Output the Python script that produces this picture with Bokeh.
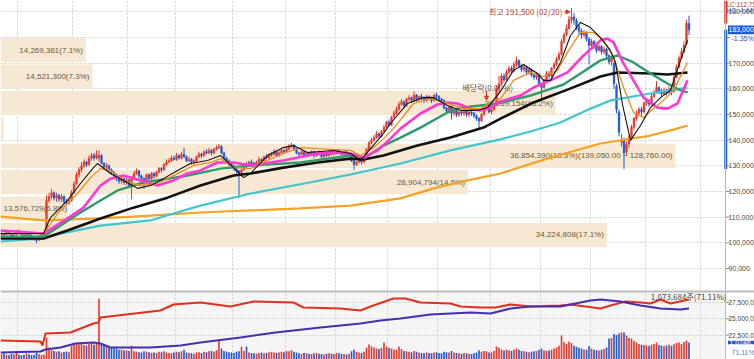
from bokeh.plotting import figure
from bokeh.models import (Range1d, FixedTicker, Label, Span, Arrow, NormalHead, ColumnDataSource)
from bokeh.layouts import column
from bokeh.embed import file_html
from bokeh.resources import INLINE
from bokeh.core.properties import value

# ---------------- daily candles (thousand KRW) ----------------
opens = [103.0,103.5,103.0,104.0,103.5,102.5,103.0,104.5,104.0,103.0,
102.5,103.5,103.0,102.0,101.5,101.0,102.5,103.0,104.0,116.5,
118.0,119.5,117.5,118.5,117.0,118.0,116.0,115.5,116.5,119.5,
123.0,126.5,128.5,130.0,131.5,130.5,133.0,134.0,133.0,133.0,
134.0,131.0,129.5,130.0,128.5,127.5,126.5,125.0,124.0,125.0,
123.5,124.5,122.0,125.5,127.0,128.0,126.0,125.0,124.0,126.5,
125.0,127.0,126.0,127.5,129.0,128.5,130.5,131.5,132.0,133.0,
132.5,134.0,133.0,134.5,133.5,132.0,132.5,131.5,132.0,133.5,
134.5,134.0,135.5,135.0,136.0,135.0,136.5,137.0,137.5,135.0,
133.0,132.0,131.0,130.0,129.0,128.0,127.0,128.5,130.5,130.0,
131.5,131.0,130.0,131.5,132.5,132.0,133.5,133.0,134.0,134.5,
135.5,134.0,135.0,136.0,135.5,136.5,137.5,138.0,136.5,135.0,
134.5,135.5,134.0,135.0,134.5,135.5,134.0,135.0,134.5,133.5,
135.0,134.0,135.5,134.5,135.0,136.0,135.0,134.5,135.5,134.0,
134.5,132.0,130.5,131.5,132.0,131.5,133.0,136.5,139.0,140.0,
141.0,142.5,141.5,143.5,145.0,147.0,146.0,149.0,150.5,152.0,
154.0,155.0,153.5,156.0,156.5,155.5,157.5,156.0,157.0,156.5,
155.5,157.0,156.5,155.5,157.5,157.0,156.0,155.5,152.5,151.5,
153.0,150.5,151.5,150.0,151.0,150.5,151.5,150.0,151.0,150.5,
149.5,148.5,147.5,150.0,152.5,153.0,151.0,152.0,154.0,160.0,
162.0,165.0,163.5,166.5,168.0,167.0,169.5,171.0,169.0,167.5,
168.5,166.5,167.5,165.5,164.5,165.5,162.0,160.5,163.5,166.0,
165.0,168.0,169.5,171.5,173.5,178.5,181.0,183.5,187.0,188.0,
186.5,184.0,182.5,181.0,182.0,179.5,177.0,178.5,177.0,175.0,
176.5,174.5,175.5,173.0,170.5,170.0,161.0,151.0,139.0,140.0,
135.5,138.5,141.0,145.0,148.5,150.5,152.0,151.0,154.5,155.5,
154.0,157.0,158.5,160.5,159.0,158.0,159.5,158.5,160.0,159.0,
164.5,168.5,172.0,174.5,177.5,185.5]
closes = [103.5,103.0,104.0,103.5,102.5,103.0,104.5,104.0,103.0,102.5,
103.5,103.0,102.0,101.5,101.0,102.5,103.0,103.5,116.5,118.0,
119.5,117.5,118.5,117.0,118.0,116.0,115.5,116.5,119.5,123.0,
126.5,128.5,130.0,131.5,130.5,133.0,134.0,133.0,134.5,134.0,
131.0,129.5,130.0,128.5,127.5,126.5,125.0,124.0,125.0,123.5,
124.5,122.0,125.5,127.0,128.0,126.0,125.0,124.0,126.5,125.0,
127.0,126.0,127.5,129.0,128.5,130.5,131.5,132.0,133.0,132.5,
134.0,133.0,134.5,133.5,132.0,132.5,131.5,132.0,133.5,134.5,
134.0,135.5,135.0,136.0,135.0,136.5,137.0,137.5,135.0,133.0,
132.0,131.0,130.0,129.0,128.0,127.0,128.5,130.5,130.0,131.5,
131.0,130.0,131.5,132.5,132.0,133.5,133.0,134.0,134.5,135.5,
134.0,135.0,136.0,135.5,136.5,137.5,138.0,136.5,135.0,134.5,
135.5,134.0,135.0,134.5,135.5,134.0,135.0,134.5,133.5,135.0,
134.0,135.5,134.5,135.0,136.0,135.0,134.5,135.5,134.0,134.5,
132.0,130.5,131.5,132.0,131.5,133.0,136.5,139.0,140.0,141.0,
142.5,141.5,143.5,145.0,147.0,146.0,149.0,150.5,152.0,154.0,
155.0,153.5,156.0,156.5,155.5,157.5,156.0,157.0,156.5,155.5,
157.0,156.5,155.5,157.5,157.0,156.0,155.5,152.5,151.5,153.0,
150.5,151.5,150.0,151.0,150.5,151.5,150.0,151.0,150.5,149.5,
148.5,147.5,150.0,152.5,153.0,151.0,152.0,153.5,160.0,162.0,
165.0,163.5,166.5,168.0,167.0,169.5,171.0,169.0,167.5,168.5,
166.5,167.5,165.5,164.5,165.5,162.0,160.5,163.5,166.0,165.0,
168.0,169.5,171.5,173.5,178.5,181.0,183.5,187.0,188.0,186.5,
184.0,182.5,181.0,182.0,179.5,177.0,178.5,177.0,175.0,176.5,
174.5,175.5,173.0,170.5,172.0,162.0,152.0,143.0,140.0,135.0,
138.5,141.0,145.0,148.5,150.5,152.0,151.0,154.5,155.5,154.0,
157.0,158.5,160.5,159.0,158.0,159.5,158.5,160.0,159.0,164.5,
168.5,172.0,174.5,177.0,185.5,183.0]
highs = [104.5,104.0,104.8,104.5,103.8,103.5,105.0,105.2,104.2,103.5,
104.0,104.0,103.2,102.5,102.0,103.0,103.5,104.0,118.5,119.5,
121.0,120.0,119.5,119.0,119.0,118.5,117.0,117.5,120.5,124.0,
127.5,129.5,131.5,132.5,132.0,134.0,135.0,135.0,136.0,136.0,
134.5,131.5,131.0,130.5,129.0,128.0,127.0,125.5,126.0,125.5,
125.5,125.0,126.0,128.0,129.0,128.5,126.5,125.5,127.0,127.0,
127.5,127.5,128.0,129.5,129.5,131.0,132.5,133.0,134.0,134.0,
135.0,134.5,135.5,137.0,134.0,133.5,133.0,132.5,134.0,135.5,
135.0,136.0,136.5,137.0,136.5,137.0,138.0,138.5,138.0,135.5,
133.5,132.5,131.5,130.5,129.5,128.5,129.0,131.0,131.5,132.0,
132.5,131.5,132.0,133.5,133.0,134.0,134.5,135.0,135.5,136.5,
136.0,136.0,137.0,136.5,137.5,138.5,139.0,138.5,137.0,135.5,
136.0,136.0,135.5,135.5,136.0,136.0,135.5,136.0,135.0,135.5,
135.5,136.0,136.0,135.5,136.5,136.5,135.5,136.0,136.0,135.0,
134.5,132.5,132.0,132.5,132.5,133.5,137.0,139.5,141.0,142.0,
143.5,143.0,144.0,146.0,147.5,148.0,149.5,151.5,153.0,155.0,
156.0,155.5,156.5,157.5,157.0,159.0,158.0,157.5,158.0,157.0,
157.5,157.5,157.0,158.0,158.5,157.5,156.5,156.0,153.0,153.5,
153.5,152.0,152.0,151.5,151.5,152.0,152.0,151.5,151.5,151.0,
150.0,149.0,150.5,153.0,154.0,153.5,152.5,154.0,161.0,165.0,
166.0,166.0,167.5,169.0,169.0,170.5,172.5,171.5,169.5,169.5,
169.0,168.5,168.0,166.0,166.5,166.0,162.5,164.0,167.0,167.0,
168.5,170.5,172.5,174.5,179.5,182.0,185.0,188.5,191.5,189.5,
187.5,185.0,183.5,183.0,182.5,180.0,179.5,179.0,177.5,177.5,
177.0,176.5,176.0,173.5,173.0,170.5,162.0,152.0,142.5,141.0,
139.5,142.0,146.0,149.0,151.5,153.0,153.0,155.0,156.5,156.0,
158.0,159.5,163.0,161.0,160.0,160.5,160.0,161.0,160.5,165.5,
169.5,173.0,176.0,178.5,187.0,188.5]
lows = [102.5,102.5,102.8,103.0,102.0,102.0,102.8,103.5,102.5,102.0,
102.2,102.5,101.5,100.8,99.8,100.8,102.0,102.5,103.5,115.5,
117.0,116.5,116.0,116.0,116.0,115.0,114.5,114.8,116.0,119.0,
122.5,125.5,127.5,129.0,129.5,130.0,132.0,132.0,132.5,131.5,
130.5,128.5,128.5,127.5,126.5,125.5,124.0,123.0,123.0,122.5,
122.5,121.5,117.0,125.0,126.5,125.0,124.0,121.0,123.5,122.0,
124.5,125.0,125.5,127.0,127.5,128.0,130.0,131.0,131.5,132.0,
132.0,132.5,132.5,133.0,131.5,131.5,130.5,130.5,131.5,133.0,
133.0,133.5,134.5,134.5,134.0,134.5,136.0,136.5,134.5,132.5,
131.0,130.0,129.0,128.0,127.0,117.5,126.0,128.0,129.0,129.5,
130.0,129.0,129.5,131.0,131.0,131.5,132.5,132.5,133.5,134.0,
133.5,133.5,134.5,134.5,135.0,136.0,137.0,136.0,134.5,133.5,
134.0,133.5,133.5,133.5,134.0,133.0,133.5,134.0,132.5,133.0,
133.5,133.5,134.0,134.0,134.5,134.5,134.0,134.0,133.5,133.5,
131.5,128.5,130.0,131.0,130.5,131.0,132.5,136.0,138.5,139.5,
140.5,140.5,141.0,143.0,144.5,145.5,145.5,148.5,150.0,151.5,
153.5,152.5,153.0,155.0,154.5,155.0,155.0,155.0,155.5,154.5,
155.0,155.5,154.5,155.0,156.0,155.0,154.5,152.0,150.5,150.5,
148.0,149.5,149.0,149.0,149.5,149.5,149.0,149.0,149.5,148.5,
147.5,144.5,147.0,149.5,151.5,150.5,150.0,151.5,153.5,158.5,
161.5,162.5,163.0,165.5,166.0,166.5,168.5,168.0,166.5,166.5,
165.5,165.5,164.5,163.5,163.5,161.0,156.0,160.0,163.0,164.0,
164.5,167.5,169.0,171.0,173.0,177.5,180.5,183.0,185.5,185.0,
183.0,181.0,179.5,180.0,178.5,169.5,175.5,175.5,174.0,174.5,
173.5,173.5,172.0,169.5,169.0,160.0,150.5,141.5,137.5,128.76,
134.0,137.0,140.0,144.0,147.5,149.5,149.5,150.5,153.5,153.0,
153.5,156.5,158.0,158.0,157.0,157.5,157.5,158.0,157.5,158.5,
164.0,168.0,171.5,174.0,177.0,181.0]
# daily volume (thousand shares)
volumes_k = [480,520,450,430,500,470,540,460,420,440,510,470,430,450,560,490,430,460,
1330,
820,700,640,600,620,560,590,610,580,
900,960,1020,980,1050,940,900,1000,1070,960,1050,
3300,
1000,920,880,850,820,780,760,700,720,680,660,
640,900,620,600,580,560,620,600,580,550,
560,540,600,580,620,560,540,520,560,600,
580,620,700,560,540,520,500,560,580,540,
600,580,620,640,600,680,1173,760,640,600,
580,560,540,600,620,860,640,867,560,540,
520,500,540,560,520,540,580,600,560,540,
560,600,580,640,620,680,600,560,520,500,
540,520,500,480,520,540,500,480,460,500,
520,500,480,540,520,500,480,460,500,620,
700,600,560,540,600,800,969,880,820,760,
740,800,1071,860,800,760,720,700,867,740,
640,620,600,580,640,600,560,540,520,560,
540,520,560,580,540,520,600,580,560,640,
560,540,520,500,540,520,500,480,520,560,
680,600,640,620,560,580,640,867,800,720,
660,700,680,640,700,760,700,640,620,600,
580,600,620,640,700,760,680,640,660,700,
760,820,900,1428,1100,1000,1122,1050,900,860,
800,760,720,700,880,760,700,680,660,700,
740,820,1275,1300,1500,1450,1530,1581,1581,1428,
1300,1275,1150,1071,1000,960,940,920,900,960,
1000,1071,940,900,880,920,960,900,980,1050,
1071,1000,1100,1173,1074]

# month-start positions (candle index) for vertical grid
month_start_idx = [6.5, 28.5, 50.5, 69.5, 92.5, 113.5, 133.5, 154.5, 174.5, 195.5, 215.5, 235.5, 257.5, 279.5]

# ---------------- moving averages (thousand KRW) ----------------
ma5_idx = [-0.4,16.8,19.6,26.4,31.6,36.8,38.4,43.6,48.8,54.4,59.6,64.8,70.4,75.6,82.4,87.6,92.8,96.8,99.6,106.4,112.8,116.8,122.4,132.8,139.6,143.6,147.6,152.8,155.6,162.4,168.8,172.8,178.4,183.6,190.4,194.4,199.6,204.8,208.8,214.4,216.8,219.6,223.6,227.6,231.6,235.6,239.6,243.6,245.6,248.4,251.6,255.6,259.6,263.6,267.6,271.6,274.4]
ma5_val = [103.6,103.6,109.8,116.5,123.1,129.3,130.9,127.0,124.3,121.2,122.3,125.0,128.2,130.9,132.1,134.0,129.3,125.4,127.0,134.0,137.1,137.9,135.2,136.0,134.8,132.1,136.7,142.6,146.5,154.3,156.6,156.6,153.5,151.6,151.6,152.7,159.0,167.2,169.5,166.0,163.3,163.3,170.3,180.8,185.9,183.9,180.0,175.0,170.3,153.9,139.9,145.7,152.7,156.6,159.4,171.1,178.9]
ma10_idx = [-0.4,16.8,22.4,30.4,35.6,39.6,43.6,48.8,55.6,62.4,68.8,76.8,83.6,87.6,92.8,99.6,106.4,112.8,119.6,126.4,139.6,143.6,148.8,152.8,156.8,164.8,171.6,178.4,184.8,191.6,195.6,199.6,204.8,211.6,216.8,222.4,226.4,231.6,236.8,240.8,244.8,248.8,252.8,256.8,260.8,264.8,268.8,274.4]
ma10_val = [103.6,103.6,111.4,119.2,125.4,128.9,128.2,124.3,122.3,123.1,126.2,130.1,131.3,132.8,129.3,128.9,132.1,134.8,137.1,136.7,136.0,134.0,137.1,140.6,144.5,154.3,156.2,154.3,152.3,152.3,154.7,156.2,163.3,166.4,164.8,167.2,174.2,182.0,182.0,178.9,172.2,160.5,150.8,148.8,152.3,155.5,159.4,170.3]
ma20_idx = [-0.4,16.8,26.4,32.8,39.6,43.6,48.8,55.6,62.4,68.8,74.4,79.6,86.4,92.8,99.6,112.8,126.4,132.8,139.6,144.8,150.4,155.6,159.6,167.6,174.4,178.4,182.4,187.6,191.6,195.6,199.6,207.6,212.8,219.6,226.4,232.8,239.6,242.4,244.8,248.8,252.8,256.8,262.4,266.4,270.4,274.4]
ma20_val = [104.8,103.6,109.5,113.7,122.3,125.0,126.2,124.3,122.3,124.3,127.0,128.2,131.3,131.3,130.1,132.1,134.8,135.2,134.8,133.2,136.0,140.6,144.5,150.4,153.9,154.7,154.3,152.3,151.6,152.7,155.1,157.4,160.5,163.3,166.4,173.0,178.9,179.6,178.1,169.9,163.3,156.6,152.7,152.3,154.3,163.3]
ma60_idx = [-0.4,16.8,23.6,31.6,39.6,46.4,56.8,74.4,87.6,99.6,119.6,139.6,145.6,152.8,159.6,167.6,178.4,183.6,191.6,198.4,211.6,224.8,231.6,239.6,246.4,252.8,259.6,266.4,271.6,274.4]
ma60_val = [102.4,102.4,106.7,111.8,116.5,120.4,123.5,126.2,128.9,130.1,131.3,134.0,133.2,137.9,141.0,144.9,150.8,152.7,153.5,154.3,157.4,161.7,166.0,171.1,173.0,170.3,166.0,162.1,159.4,158.6]
ma120_idx = [-0.4,16.8,26.4,39.6,52.8,66.4,79.6,92.8,99.6,112.8,126.4,139.6,144.8,152.8,166.4,179.6,192.8,199.6,212.8,226.4,239.6,246.4,259.6,266.4,274.4]
ma120_val = [101.7,101.7,104.8,109.5,113.7,117.6,122.3,126.2,127.0,129.3,131.3,132.8,132.5,134.0,137.9,141.0,144.9,148.4,154.7,159.7,164.8,166.4,166.0,165.6,166.4]
ma240_idx = [-0.4,16.8,23.6,39.6,59.6,68.8,79.6,99.6,119.6,139.6,159.6,179.6,199.6,211.6,223.6,235.6,243.6,259.6,274.4]
ma240_val = [100.5,101.7,103.6,106.7,108.7,111.4,114.5,119.2,122.8,126.6,130.9,136.0,140.3,143.4,146.9,152.3,155.5,158.2,160.5]
ma480_idx = [-0.4,16.8,39.6,59.6,79.6,99.6,119.6,139.6,159.6,172.8,186.4,199.6,219.6,239.6,259.6,268.8,274.4]
ma480_val = [110.2,108.7,109.5,110.6,111.8,112.6,113.4,114.5,117.3,121.2,124.3,127.0,133.2,138.7,141.8,144.1,145.7]

# ---------------- volume-by-price bands ----------------
vp_lows = [97890, 108180, 118470, 128760, 139050, 149340, 159630, 169920]
vp_step = 10290
vp_vols = [34224808, 13576729, 28904794, 36854390, 11127465, 32269154, 14521300, 14269361]
vp_pcts = ["17.1", "6.8", "14.5", "18.5", "5.6", "16.2", "7.3", "7.1"]
vp_extra = ["", "", "", "(139,050.00 ~ 128,760.00)", "", "", "", ""]
vp_label_left = [False, True, False, False, False, False, False, False]
vp_show_label = [True, True, True, True, False, True, True, True]

# ---------------- lower panel lines (shares, millions) ----------------
red_idx = [-0.4,15.6,16.4,17.6,27.6,36.8,38.8,39.6,63.6,68.8,79.6,91.6,100.8,116.8,120.8,135.6,143.6,147.6,156.8,161.6,167.6,179.6,183.6,191.6,197.6,203.6,211.6,223.6,227.6,239.6,243.6,249.6,255.6,259.6,263.6,267.6,275]
red_val = [21.67,21.52,20.90,22.74,22.90,24.28,24.43,25.20,26.27,27.19,27.50,26.89,27.65,27.50,26.73,26.58,26.27,26.89,28.11,28.11,27.50,27.35,26.89,26.73,26.73,27.19,26.89,27.04,27.19,26.58,27.04,27.65,27.50,27.35,27.96,27.35,27.96]
blue_idx = [-0.4,15.6,17.6,23.6,29.6,36.8,39.6,43.6,59.6,71.6,79.6,95.6,109.6,127.6,143.6,151.6,159.6,171.6,187.6,195.6,203.6,211.6,223.6,227.6,235.6,239.6,247.6,255.6,263.6,271.6,275]
blue_val = [19.83,19.98,20.29,20.60,21.21,21.36,21.21,20.60,20.60,20.90,21.36,22.13,22.90,23.67,24.28,24.74,25.05,25.66,25.97,25.81,26.58,26.89,26.89,27.19,27.81,27.96,27.65,27.04,26.58,26.43,26.58]

price_ticks = [90000, 100000, 110000, 120000, 130000, 140000, 150000, 160000, 170000, 180000, 190000]
price_labels = [90000, 100000, 110000, 120000, 130000, 140000, 150000, 160000, 170000, 190000]
lower_ticks = [22500000, 25000000, 27500000]
last_price = 183000
prev_close = 185500
period_low = 128760
high_price = 191500
high_idx = 228
ex_div_idx = 194

UP = "#e8382c"
DOWN = "#2159d6"
BOXBLUE = "#1f5cc8"
NUM_FONT = "Liberation Sans"
KR_FONT = "Noto Sans CJK KR"
GRID = "#cfcfcf"
TXT = "#444444"

n = len(closes)
idx = list(range(n))
o = [v * 1000 for v in opens]
c = [v * 1000 for v in closes]
h = [v * 1000 for v in highs]
l = [v * 1000 for v in lows]
colors = [UP if cc >= oo else DOWN for oo, cc in zip(o, c)]

X0, X1 = -0.4, 301.2        # whole canvas width
AX = 289.6                  # price-axis position (candle index units)
xr = Range1d(X0, X1)
Y0, Y1 = 81400, 194440


def base_fig(height, yr):
    f = figure(width=754, height=height, x_range=xr, y_range=yr,
               output_backend="svg", toolbar_location=None,
               min_border_left=0, min_border_right=0, min_border_top=0, min_border_bottom=0)
    f.xaxis.visible = False
    f.yaxis.visible = False
    f.outline_line_color = None
    return f


def style_grid(f, yticks):
    f.xgrid.ticker = FixedTicker(ticks=month_start_idx)
    f.ygrid.ticker = FixedTicker(ticks=yticks)
    for g in (f.xgrid, f.ygrid):
        g.grid_line_color = GRID
        g.grid_line_dash = "2 2"
        g.grid_line_width = 1


# ================= price panel =================
p = base_fig(290, Range1d(Y0, Y1))
p.background_fill_color = "white"
style_grid(p, price_ticks)
p.quad(left=AX, right=X1, bottom=Y0, top=Y1, fill_color="white", line_color=None)

# volume-by-price bands
VP0 = 11.0e6
VP1 = VP0 + 28.88e6
p.extra_x_ranges = {"vp": Range1d(VP0, VP1)}
vp_src = ColumnDataSource(dict(
    y=[lo + vp_step / 2 for lo in vp_lows],
    right=vp_vols,
    lx=[VP0 if left else v for v, left in zip(vp_vols, vp_label_left)],
    align=["left" if left else "right" for left in vp_label_left],
    xoff=[3 if left else -3 for left in vp_label_left],
    text=[f"{v:,}({pc}%){ex}" if show else "" for v, pc, ex, show in
          zip(vp_vols, vp_pcts, vp_extra, vp_show_label)],
))
p.hbar(y="y", height=vp_step * 0.92, left=0, right="right", source=vp_src,
       x_range_name="vp", fill_color="#f6e8d2", line_color=None)
p.text(x="lx", y="y", text="text", text_align="align", x_offset="xoff", source=vp_src,
       x_range_name="vp", text_baseline="middle", text_font_size="8px",
       text_color="#6b5a3a", text_font=value(NUM_FONT))

# candles
top = [max(a, b) for a, b in zip(o, c)]
bot = [min(a, b) for a, b in zip(o, c)]
p.segment(x0=idx, y0=l, x1=idx, y1=h, line_color=colors, line_width=1)
p.vbar(x=idx, top=top, bottom=bot, width=0.7, fill_color=colors, line_color=colors, line_width=0.5)


def k(vals):
    return [v * 1000 for v in vals]


p.line(ma480_idx, k(ma480_val), line_color="#f3a425", line_width=2.2)
p.line(ma240_idx, k(ma240_val), line_color="#3fc6cf", line_width=2.2)
p.line(ma120_idx, k(ma120_val), line_color="#111111", line_width=2.6)
p.line(ma60_idx, k(ma60_val), line_color="#2f9a6c", line_width=2.4)
p.line(ma20_idx, k(ma20_val), line_color="#ff38d4", line_width=2.6)
p.line(ma10_idx, k(ma10_val), line_color="#ef8a1d", line_width=1.3)
p.line(ma5_idx, k(ma5_val), line_color="#111111", line_width=1.1)

# price axis: line, ticks, labels
p.add_layout(Span(location=AX, dimension="height", line_color="#b8b8b8", line_width=1))
p.dash(x=[AX + 0.9] * len(price_ticks), y=price_ticks, size=4, line_color="#888888")
p.text(x=[AX] * len(price_labels), y=price_labels, text=[f"{t:,}" for t in price_labels],
       x_offset=3, text_baseline="middle", text_font_size="7px", text_color=TXT,
       text_font=value(NUM_FONT))
p.quad(left=AX - 0.5, right=AX + 0.7, bottom=prev_close, top=Y1, fill_color="#e23a2a", line_color=None)
p.quad(left=AX - 0.5, right=AX + 0.7, bottom=period_low, top=last_price, fill_color="#1f5fd0", line_color=None)
p.quad(left=AX + 1.0, right=X1, bottom=last_price - 1700, top=last_price + 1700,
       fill_color=BOXBLUE, line_color=None)
p.text(x=[AX], y=[last_price], text=[f"{last_price:,}"], x_offset=3, text_baseline="middle",
       text_font_size="7px", text_color="white", text_font=value(NUM_FONT))
p.text(x=[AX], y=[179600], text=["-1.35%"], x_offset=6, text_baseline="middle",
       text_font_size="7px", text_color="#2050c0", text_font=value(NUM_FONT))
p.text(x=[AX], y=[193000], text=["LC:112,750"], x_offset=1, text_baseline="middle",
       text_font_size="6.5px", text_color="#d03020", text_font=value(NUM_FONT))
p.text(x=[AX], y=[190600], text=["HC:-4.44%"], x_offset=1, text_baseline="middle",
       text_font_size="6.5px", text_color="#2a58c0", text_font=value(NUM_FONT))

# annotations
p.add_layout(Label(x=high_idx - 3.6, y=190000, text=f"최고 {high_price:,} (02/20)", text_align="right",
                   text_baseline="middle", text_font_size="8px", text_color="#b8413a", text_font=KR_FONT))
p.add_layout(Arrow(end=NormalHead(size=4, fill_color="#d23a2a", line_color="#d23a2a"),
                   x_start=high_idx - 3.0, y_start=190000, x_end=high_idx - 0.6, y_end=190000,
                   line_color="#d23a2a", line_width=1))
p.add_layout(Label(x=ex_div_idx - 9.6, y=160600, text="배당락(0.00%)", text_align="left",
                   text_baseline="middle", text_font_size="8px", text_color="#555555", text_font=KR_FONT))
p.add_layout(Arrow(end=NormalHead(size=4, fill_color="#e03020", line_color="#e03020"),
                   x_start=ex_div_idx, y_start=159400, x_end=ex_div_idx, y_end=155600,
                   line_color="#e03020", line_width=1))

# ================= lower panel =================
LY0, LY1 = 18.756e6, 29.34e6
q = base_fig(69, Range1d(LY0, LY1))
q.background_fill_color = "#f5f5f5"
style_grid(q, lower_ticks)
q.quad(left=AX, right=X1, bottom=LY0, top=LY1, fill_color="white", line_color=None)

# volume axis: zero sits a few pixels below the visible bottom edge
q.extra_y_ranges = {"vol": Range1d(204e3, 3723e3)}
q.vbar(x=idx, top=[v * 1000 for v in volumes_k], bottom=0, width=0.65, y_range_name="vol",
       fill_color=colors, line_color=None)
q.line(red_idx, [v * 1e6 for v in red_val], line_color="#e0301e", line_width=2)
q.line(blue_idx, [v * 1e6 for v in blue_val], line_color="#4330b0", line_width=2)
q.add_layout(Span(location=LY1, dimension="width", line_color="#bdbdbd", line_width=4))

q.add_layout(Span(location=AX, dimension="height", line_color="#b8b8b8", line_width=1))
q.dash(x=[AX + 0.9] * len(lower_ticks), y=lower_ticks, size=4, line_color="#888888")
q.text(x=[AX] * len(lower_ticks), y=lower_ticks, text=[f"{t:,}" for t in lower_ticks],
       x_offset=3, text_baseline="middle", text_font_size="6.5px", text_color=TXT,
       text_font=value(NUM_FONT))
q.add_layout(Label(x=AX, y=28.42e6, x_offset=1, text="1,073,684주(71.11%)", text_align="right",
                   text_baseline="middle", text_font_size="8px", text_color=TXT, text_font=KR_FONT))
q.quad(left=AX + 1.0, right=X1, bottom=(volumes_k[-1] - 90) * 1000, top=(volumes_k[-1] + 90) * 1000,
       y_range_name="vol", fill_color=BOXBLUE, line_color=None)
q.text(x=[AX], y=[volumes_k[-1] * 1000], text=["1,074K"], y_range_name="vol", x_offset=4,
       text_baseline="middle", text_font_size="7px", text_color="white", text_font=value(NUM_FONT))
q.text(x=[AX], y=[560e3], text=["71.11%"], y_range_name="vol", x_offset=6,
       text_baseline="middle", text_font_size="7px", text_color="#5a7ac8", text_font=value(NUM_FONT))

layout = column(p, q, spacing=0)
open("out.html", "w").write(file_html(layout, INLINE))
